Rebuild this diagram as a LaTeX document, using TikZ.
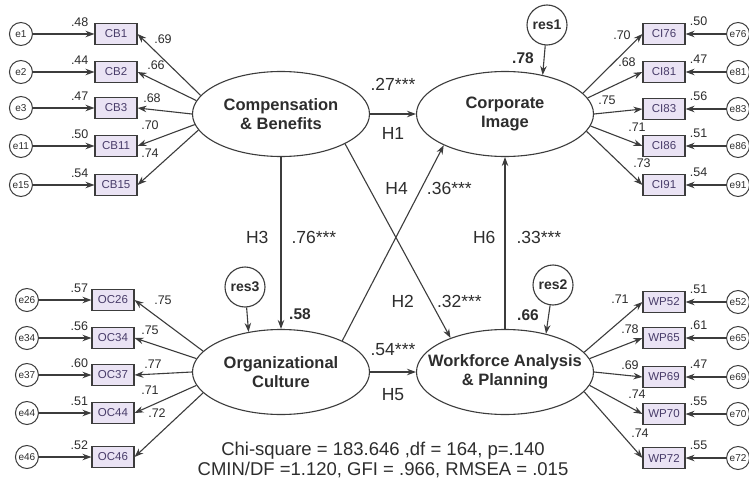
\documentclass[tikz,border=0pt]{standalone}
\usepackage{fontspec}
\setmainfont{Liberation Sans}
\usetikzlibrary{shapes, arrows.meta, positioning}
\definecolor{linegray}{RGB}{60,60,60}
\definecolor{txtgray}{RGB}{45,45,45}
\definecolor{boxtxt}{RGB}{72,60,105}
\definecolor{boxfill}{RGB}{234,227,244}

\begin{document}
\begin{tikzpicture}[x=1pt, y=-1pt,
        latent/.style={draw=linegray, ellipse, line width=1.1pt, minimum width=177pt, minimum height=85pt, inner sep=0pt},
        ltext/.style={font=\fontsize{16.5}{19}\selectfont\bfseries, align=center, text=txtgray},
        obs/.style={draw=linegray, fill=boxfill, line width=1.1pt, minimum width=42pt, minimum height=21pt, inner sep=0pt, font=\fontsize{11.5}{12}\selectfont, text=boxtxt},
        err/.style={draw=linegray, circle, line width=1pt, minimum size=23pt, inner sep=0pt, font=\fontsize{10}{11}\selectfont, text=txtgray},
        res/.style={draw=linegray, circle, line width=1.1pt, minimum size=40pt, inner sep=0pt, font=\fontsize{14}{15}\selectfont\bfseries, text=txtgray},
        arrow/.style={->, >={Stealth[length=9pt, width=6.5pt]}, draw=linegray, line width=1.1pt},
        lab/.style={font=\fontsize{12.5}{13}\selectfont, text=txtgray, inner sep=1pt},
        hyp/.style={font=\fontsize{17.5}{19}\selectfont, text=txtgray, inner sep=1pt},
        rsq/.style={font=\fontsize{15.5}{16}\selectfont\bfseries, text=txtgray, inner sep=1pt}
    ]
        \path[use as bounding box, fill=white] (0,0) rectangle (749,484);

        % Latent variables
        \node[latent, label={[ltext]center:Compensation\\\& Benefits}] (comp) at (281,114) {};
        \node[latent, label={[ltext]center:Corporate\\Image}] (corp) at (505,114) {};
        \node[latent, label={[ltext]center:Organizational\\Culture}] (org) at (281,372) {};
        \node[latent, label={[ltext]center:Workforce Analysis\\\& Planning}] (work) at (505,372) {};

        % Residuals
        \node[res] (res1) at (547,25) {res1};
        \node[res] (res2) at (553,285) {res2};
        \node[res] (res3) at (245,287) {res3};
        \draw[arrow] (res1) -- (corp.46);
        \draw[arrow] (res2) -- (work.43);
        \draw[arrow] (res3) -- (org.129);
        \node[rsq] (r2corp) at (523,58) {.78};
        \node[rsq] (r2work) at (528,315) {.66};
        \node[rsq] (r2org) at (300,314) {.58};

        % Indicators
        \foreach \n/\y/\a/\r/\l/\lx/\ly in {1/34/167/.48/.69/163/39, 2/72/171/.44/.66/156/65, 3/108/180/.47/.68/152/98, 11/146/187/.50/.70/150/125, 15/185/191/.54/.74/150/153}{
            \node[obs] (cb\n) at (116,\y) {CB\n};
            \node[err, left=61.5pt of cb\n] (e\n) {e\n};
            \draw[arrow] (e\n) -- node[lab, pos=0.76, above=6pt] {\r} (cb\n);
            \draw[arrow] (comp.\a) -- (cb\n.east);
            \node[lab] (lcb\n) at (\lx,\ly) {\l};
        }
        \foreach \n/\y/\a/\r/\l/\lx/\ly in {26/300/165/.57/.75/163/300, 34/338/171/.56/.75/150/330, 37/375/180/.60/.77/153/364, 44/413/189/.51/.71/150/390, 46/457/195/.52/.72/157/413}{
            \node[obs] (oc\n) at (113,\y) {OC\n};
            \node[err, left=52.5pt of oc\n] (e\n) {e\n};
            \draw[arrow] (e\n) -- node[lab, pos=0.77, above=6pt] {\r} (oc\n);
            \draw[arrow] (org.\a) -- (oc\n.east);
            \node[lab] (loc\n) at (\lx,\ly) {\l};
        }
        \foreach \n/\y/\a/\r/\l/\lx/\ly in {76/34/15/.50/.70/622/35, 81/72/11/.47/.68/627/62, 83/109/0/.56/.75/607/100, 86/146/352/.51/.71/637/127, 91/185/348/.54/.73/642/163}{
            \node[obs] (ci\n) at (664,\y) {CI\n};
            \node[err, right=40.5pt of ci\n] (e\n) {e\n};
            \draw[arrow] (e\n) -- node[lab, pos=0.68, above=7pt] {\r} (ci\n);
            \draw[arrow] (corp.\a) -- (ci\n.west);
            \node[lab] (lci\n) at (\lx,\ly) {\l};
        }
        \foreach \n/\y/\a/\r/\l/\lx/\ly in {52/302/14/.51/.71/620/299, 65/338/9/.61/.78/630/329, 69/377/0/.47/.69/630/365, 70/414/351/.55/.74/637/394, 72/458/346/.55/.74/640/433}{
            \node[obs] (wp\n) at (664,\y) {WP\n};
            \node[err, right=40.5pt of wp\n] (e\n) {e\n};
            \draw[arrow] (e\n) -- node[lab, pos=0.68, above=7pt] {\r} (wp\n);
            \draw[arrow] (work.\a) -- (wp\n.west);
            \node[lab] (lwp\n) at (\lx,\ly) {\l};
        }

        % Hypotheses
        \draw[arrow] (comp) -- node[hyp, above=22pt] (p1) {.27***} node[hyp, below=12pt] (h1) {H1} (corp);
        \draw[arrow] (comp.-25) -- node[hyp, pos=0.81, left=15pt] (h2) {H2} node[hyp, pos=0.81, right=5pt] (p2) {.32***} (work.148);
        \draw[arrow] (comp) -- node[hyp, pos=0.47, left=11pt] (h3) {H3} node[hyp, pos=0.47, right=9pt] (p3) {.76***} (org);
        \draw[arrow] (org.27) -- node[hyp, pos=0.78, left=12pt] (h4) {H4} node[hyp, pos=0.78, right=4pt] (p4) {.36***} (corp.207);
        \draw[arrow] (org) -- node[hyp, above=15pt] (p5) {.54***} node[hyp, below=15pt] (h5) {H5} (work);
        \draw[arrow] (work) -- node[hyp, pos=0.53, left=8pt] (h6) {H6} node[hyp, pos=0.53, right=10pt] (p6) {.33***} (corp);

        % Fit indices
        \node[font=\fontsize{18.5}{20}\selectfont, text=txtgray, align=center] (fit) at (383,460) {Chi-square = 183.646 ,df = 164, p=.140\\CMIN/DF =1.120, GFI = .966, RMSEA = .015};
\end{tikzpicture}
\end{document}
